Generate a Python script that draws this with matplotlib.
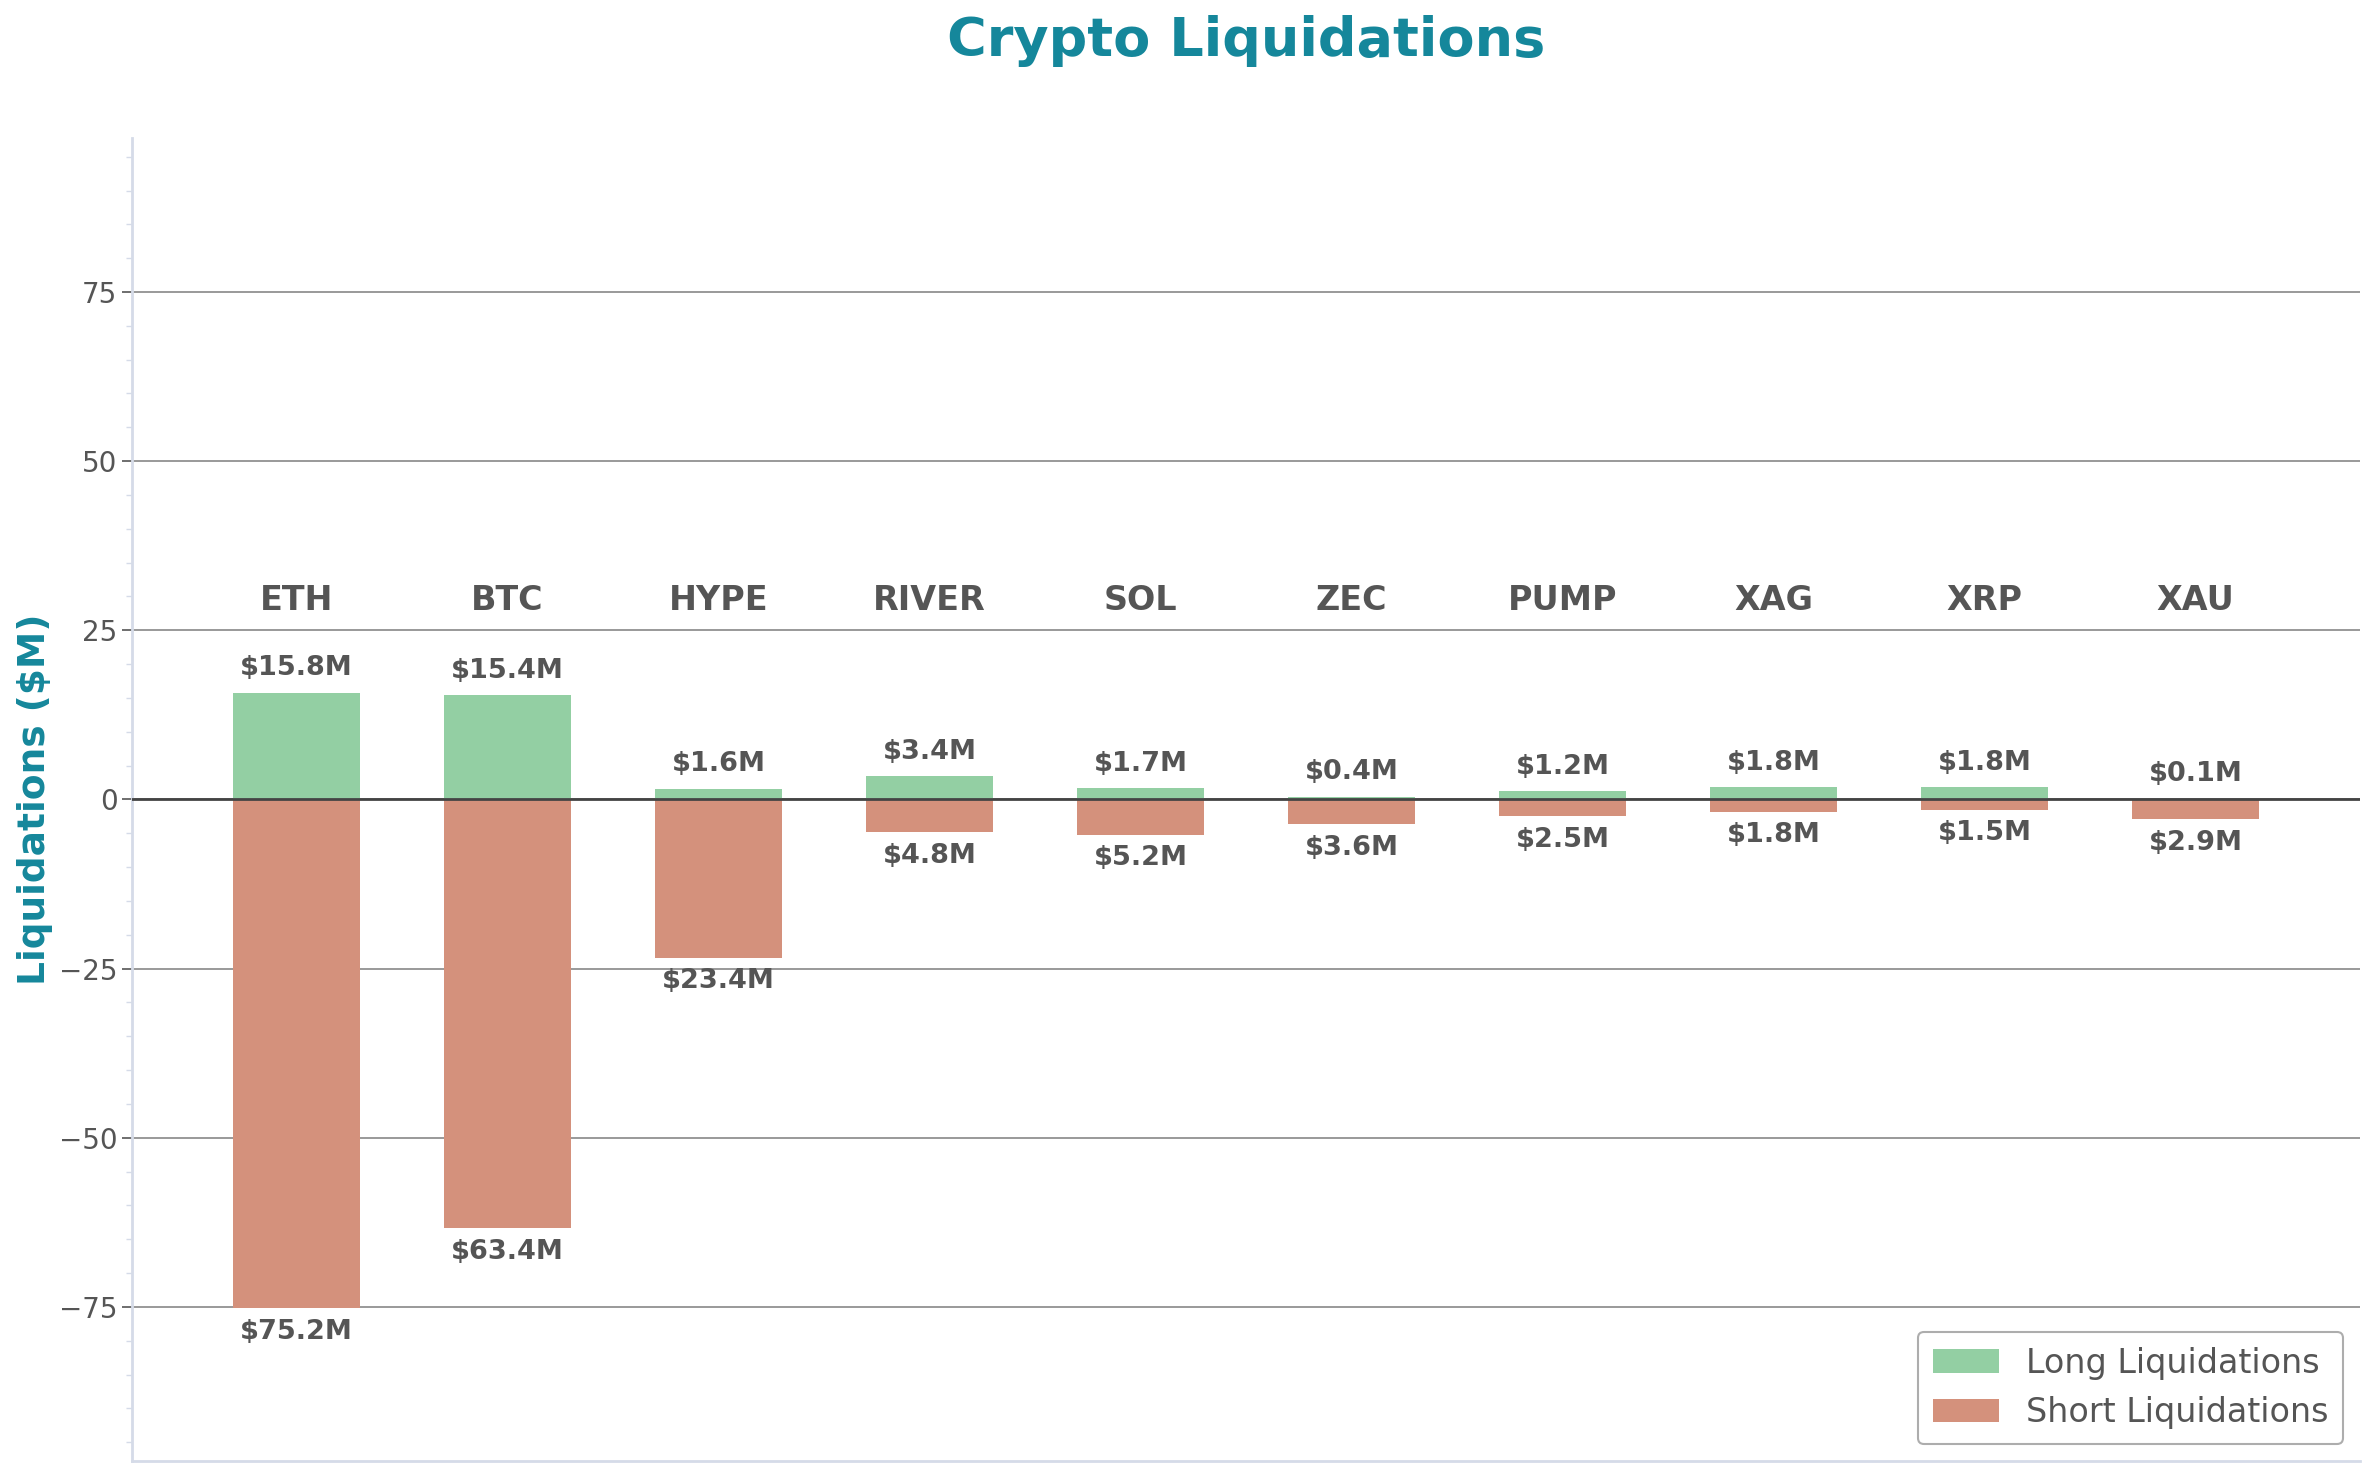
import numpy as np
import matplotlib
matplotlib.use("Agg")
import matplotlib.pyplot as plt
from matplotlib.ticker import MultipleLocator

# Дані
coins = ["ETH", "BTC", "HYPE", "RIVER", "SOL", "ZEC", "PUMP", "XAG", "XRP", "XAU"]
long_liq = [15.8, 15.4, 1.6, 3.4, 1.7, 0.4, 1.2, 1.8, 1.8, 0.1]
short_liq = [75.2, 63.4, 23.4, 4.8, 5.2, 3.6, 2.5, 1.8, 1.5, 2.9]

green = "#93cfa3"
red = "#d4917c"
teal = "#15879b"
grey_text = "#555555"

fig = plt.figure(figsize=(23.75, 14.76), dpi=100)
ax = fig.add_axes([0.0556, 0.0102, 0.9381, 0.8963])

x = np.arange(len(coins))
long_arr = np.array(long_liq)
short_arr = -np.array(short_liq)

ax.bar(x, long_arr, width=0.6, color=green, label="Long Liquidations", zorder=2)
ax.bar(x, short_arr, width=0.6, color=red, label="Short Liquidations", zorder=2)

ax.axhline(0, color="#444444", lw=2, zorder=3)

lim = max(short_liq) * 1.3
ax.set_ylim(-lim, lim)

# Підписи значень
for xi, lv, sv in zip(x, long_liq, short_liq):
    ax.text(xi, lv + 3.6, f"${lv:.1f}M", ha="center", va="center",
            fontsize=19.5, fontweight="bold", color=grey_text, zorder=4)
    ax.text(xi, -sv - 3.5, f"${sv:.1f}M", ha="center", va="center",
            fontsize=19.5, fontweight="bold", color=grey_text, zorder=4)
    ax.text(xi, 29.4, coins[xi], ha="center", va="center",
            fontsize=24, fontweight="bold", color=grey_text, zorder=4)

ax.set_xticks([])
ax.yaxis.set_major_locator(MultipleLocator(25))
ax.yaxis.set_minor_locator(MultipleLocator(5))
ax.tick_params(axis="y", which="major", labelsize=20, labelcolor=grey_text,
               color="#555555", length=7, width=1.2)
ax.tick_params(axis="y", which="minor", color="#d5dbe8", length=4, width=1)

ax.grid(axis="y", which="major", color="#888888", lw=1.2, zorder=0)

for s in ["top", "right"]:
    ax.spines[s].set_visible(False)
for s in ["left", "bottom"]:
    ax.spines[s].set_color("#d5dbe8")
    ax.spines[s].set_linewidth(2)

ax.set_ylabel("Liquidations ($M)", fontsize=27, fontweight="bold", color=teal, labelpad=4)
ax.text(0.5, 1.073, "Crypto Liquidations", transform=ax.transAxes, ha="center", va="center",
        fontsize=39, fontweight="bold", color=teal)

leg = ax.legend(loc="lower right", fontsize=24, frameon=True, fancybox=True,
                edgecolor="#999999", borderpad=0.45, handlelength=2.0)
for t in leg.get_texts():
    t.set_color(grey_text)
leg.get_frame().set_linewidth(1.5)

fig.savefig("out.png", dpi=100, facecolor="white")
